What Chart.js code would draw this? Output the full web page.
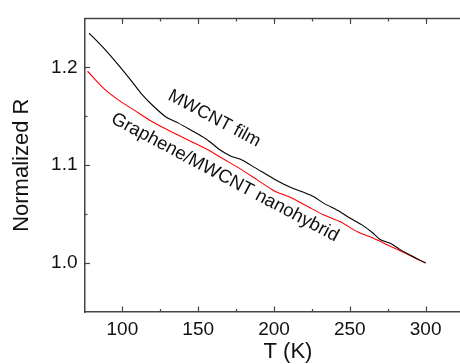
<!DOCTYPE html>
<html>
<head>
<meta charset="utf-8">
<script src="https://cdn.jsdelivr.net/npm/chart.js@4.4.0/dist/chart.umd.min.js"></script>
<style>
  html, body { margin: 0; padding: 0; background: #fff; overflow: hidden; }
  #wrap { width: 464px; height: 364px; }
</style>
</head>
<body>
<div id="wrap"><canvas id="c" width="464" height="364"></canvas></div>
<script>
// MWCNT film (black)
const tempFilm = [78, 88, 97, 105, 112, 120, 129, 137, 145, 155, 165, 172, 178, 188, 200, 210, 220, 226, 233, 243, 250, 258, 265, 270, 277, 283, 290, 300];
const rFilm    = [1.235, 1.219, 1.203, 1.188, 1.174, 1.161, 1.149, 1.143, 1.136, 1.127, 1.115, 1.109, 1.106, 1.097, 1.086, 1.078, 1.072, 1.068, 1.061, 1.053, 1.046, 1.039, 1.031, 1.024, 1.020, 1.014, 1.008, 1.000];

// Graphene/MWCNT nanohybrid (red)
const tempHybrid = [77, 88, 98, 108, 118, 130, 143, 156, 167, 178, 189, 200, 211, 222, 233, 244, 255, 266, 277, 288, 300];
const rHybrid    = [1.196, 1.178, 1.166, 1.156, 1.146, 1.136, 1.126, 1.116, 1.106, 1.096, 1.085, 1.074, 1.067, 1.058, 1.049, 1.042, 1.032, 1.025, 1.017, 1.009, 1.000];

const xTicks = [100, 150, 200, 250, 300];
const xMinor = [125, 175, 225, 275];
const yTicks = [1.0, 1.1, 1.2];
const yMinor = [1.05, 1.15];

const AXIS = '#444';
const TXT = '#111';
const FONT = "'Liberation Sans', Arial, sans-serif";

// inward tick marks, top border, curve labels and x title
const decoPlugin = {
  id: 'deco',
  afterDraw(chart) {
    const { ctx, chartArea: a, scales: { x, y } } = chart;
    ctx.save();
    ctx.strokeStyle = AXIS;
    ctx.lineWidth = 1.5;
    ctx.beginPath();
    ctx.moveTo(a.left, a.top);
    ctx.lineTo(a.right, a.top);
    ctx.stroke();

    ctx.lineWidth = 1.2;
    const xMark = (vals, len) => vals.forEach(v => {
      const px = Math.round(x.getPixelForValue(v)) + 0.5;
      ctx.beginPath();
      ctx.moveTo(px, a.bottom); ctx.lineTo(px, a.bottom - len);
      ctx.moveTo(px, a.top); ctx.lineTo(px, a.top + len);
      ctx.stroke();
    });
    const yMark = (vals, len) => vals.forEach(v => {
      const py = Math.round(y.getPixelForValue(v)) + 0.5;
      ctx.beginPath();
      ctx.moveTo(a.left, py); ctx.lineTo(a.left + len, py);
      ctx.stroke();
    });
    xMark(xTicks, 5.5); xMark(xMinor, 3);
    yMark(yTicks, 5.5); yMark(yMinor, 3);

    ctx.fillStyle = TXT;
    ctx.font = '22px ' + FONT;
    ctx.textAlign = 'center';
    ctx.textBaseline = 'middle';
    ctx.fillText('T (K)', 288, 352);

    const rotText = (txt, cx, cy, deg, size) => {
      ctx.save();
      ctx.translate(cx, cy);
      ctx.rotate(deg * Math.PI / 180);
      ctx.font = size + 'px ' + FONT;
      ctx.textAlign = 'center';
      ctx.textBaseline = 'alphabetic';
      ctx.fillText(txt, 0, 0);
      ctx.restore();
    };
    rotText('MWCNT film', 212, 123, 28, 18);
    rotText('Graphene/MWCNT nanohybrid', 222.5, 182, 28, 18.5);
    ctx.restore();
  }
};

new Chart(document.getElementById('c'), {
  type: 'line',
  data: {
    datasets: [
      {
        label: 'MWCNT film',
        data: tempFilm.map((t, i) => ({ x: t, y: rFilm[i] })),
        borderColor: '#000',
        borderWidth: 1.1,
        pointRadius: 0,
        tension: 0.25
      },
      {
        label: 'Graphene/MWCNT nanohybrid',
        data: tempHybrid.map((t, i) => ({ x: t, y: rHybrid[i] })),
        borderColor: '#ff0000',
        borderWidth: 1.1,
        pointRadius: 0,
        tension: 0.3
      }
    ]
  },
  options: {
    responsive: false,
    animation: false,
    devicePixelRatio: 1,
    layout: { padding: { top: 13.5, right: 0.5, left: 0, bottom: 0 } },
    plugins: { legend: { display: false }, tooltip: { enabled: false } },
    scales: {
      x: {
        type: 'linear',
        min: 75,
        max: 325,
        afterBuildTicks: s => { s.ticks = xTicks.map(v => ({ value: v })); },
        afterFit: s => { s.height = 52; },
        grid: { display: false, drawTicks: false },
        border: { display: true, color: AXIS, width: 1.5 },
        ticks: { padding: 6, color: TXT, font: { family: FONT, size: 19 }, maxRotation: 0 }
      },
      y: {
        min: 0.95,
        max: 1.25,
        afterBuildTicks: s => { s.ticks = yTicks.map(v => ({ value: v })); },
        afterFit: s => { s.width = 84.5; },
        grid: { display: false, drawTicks: false },
        border: { display: true, color: AXIS, width: 1.5 },
        ticks: { padding: 7, color: TXT, font: { family: FONT, size: 19 }, callback: v => v.toFixed(1) },
        title: { display: true, text: 'Normalized R', color: TXT, font: { family: FONT, size: 22 }, padding: { top: 9, bottom: 0 } }
      }
    }
  },
  plugins: [decoPlugin]
});
</script>
</body>
</html>
